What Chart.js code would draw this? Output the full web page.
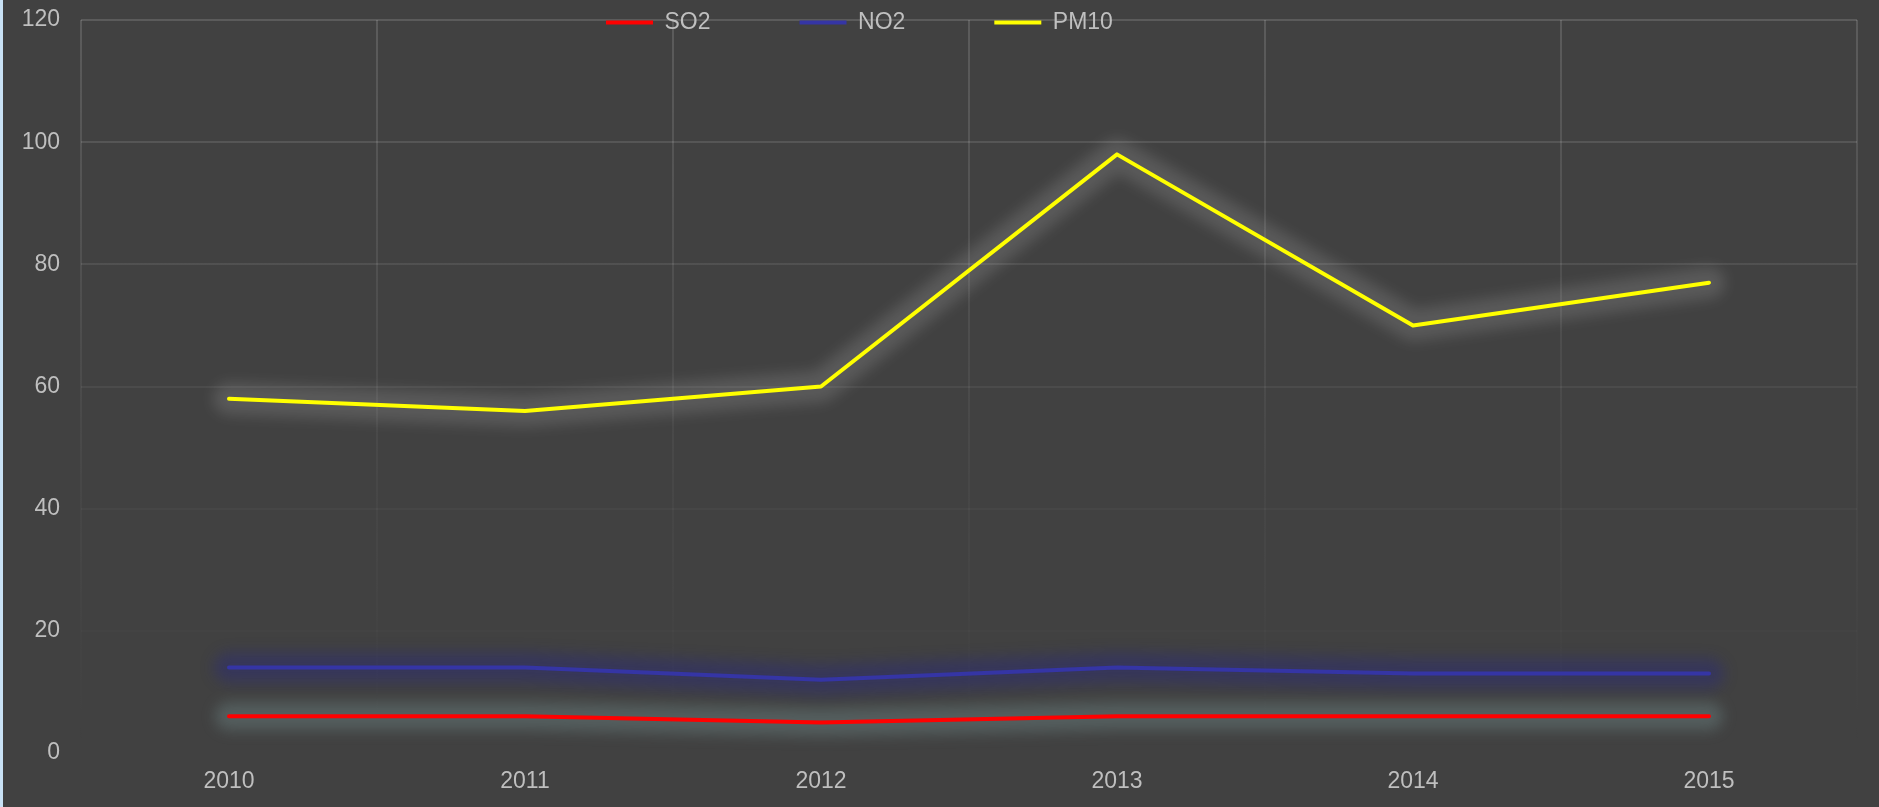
<!DOCTYPE html>
<html>
<head>
<meta charset="utf-8">
<script src="https://cdn.jsdelivr.net/npm/chart.js@4"></script>
<style>
  html, body { margin: 0; padding: 0; background: #414141; overflow: hidden; }
  #wrap { position: relative; width: 1879px; height: 807px; }
  #strip { position: absolute; left: 0; top: 0; width: 3px; height: 807px; background: #c8e1f5; }
</style>
</head>
<body>
<div id="wrap">
  <canvas id="myChart" width="1879" height="807"></canvas>
  <div id="strip"></div>
</div>
<script>
let years = ["2010", "2011", "2012", "2013", "2014", "2015"];
let so2 = [6, 6, 5, 6, 6, 6];
let no2 = [14, 14, 12, 14, 13, 13];
let pm10 = [58, 56, 60, 98, 70, 77];
let yTicks = [0, 20, 40, 60, 80, 100, 120];

let txtColor = "#bfbfbf";
let fontFam = "'Liberation Sans', Arial, sans-serif";

// soft glow behind each line, like the office "glow" effect
let glowColors = ["rgba(140,178,178,0.26)", "rgba(30,30,150,0.3)", "rgba(255,255,255,0.13)"];
let glowWidth = [28, 30, 32];

const glowPlugin = {
  id: "glow",
  beforeDatasetDraw(chart, args) {
    let pts = args.meta.data;
    if (!pts.length) return;
    let ctx = chart.ctx;
    ctx.save();
    ctx.filter = "blur(7px)";
    ctx.strokeStyle = glowColors[args.index];
    ctx.lineWidth = glowWidth[args.index];
    ctx.lineJoin = "round";
    ctx.lineCap = "round";
    ctx.beginPath();
    pts.forEach((p, i) => i ? ctx.lineTo(p.x, p.y) : ctx.moveTo(p.x, p.y));
    ctx.stroke();
    ctx.restore();
  }
};

// legend sits over the top edge of the plot, left of centre
const legendShift = {
  id: "legendShift",
  afterLayout(chart) {
    let lg = chart.legend;
    if (!lg) return;
    let pad = lg.options.labels.padding;
    let w = lg.right - lg.left;
    lg.left = 606 - pad; lg.right = lg.left + w;
    lg.top = 11 - pad; lg.bottom = lg.top + pad * 2 + 30;
  }
};

function gridColor(c) {
  let area = c.chart.chartArea;
  if (!area) return "rgba(255,255,255,0.1)";
  let g = c.chart.ctx.createLinearGradient(0, area.top, 0, area.bottom);
  g.addColorStop(0, "rgba(255,255,255,0.14)");
  g.addColorStop(0.6, "rgba(255,255,255,0.04)");
  g.addColorStop(1, "rgba(255,255,255,0)");
  return g;
}

function mkSet(label, data, color) {
  return {
    label: label,
    data: data,
    borderColor: color,
    backgroundColor: color,
    borderWidth: 4,
    borderCapStyle: "round",
    borderJoinStyle: "round",
    pointRadius: 0,
    pointHoverRadius: 0,
    pointStyle: "line",
    tension: 0,
    fill: false
  };
}

new Chart("myChart", {
  type: "line",
  data: {
    labels: years,
    datasets: [
      mkSet("SO2", so2, "#ff0000"),
      mkSet("NO2", no2, "#3535a5"),
      mkSet("PM10", pm10, "#ffff00")
    ]
  },
  plugins: [glowPlugin, legendShift],
  options: {
    responsive: false,
    devicePixelRatio: 1,
    animation: false,
    layout: { padding: { left: 22, right: 22, top: 19, bottom: 10 } },
    plugins: {
      tooltip: { enabled: false },
      legend: {
        position: "top",
        align: "start",
        maxHeight: 1,
        labels: {
          usePointStyle: true,
          pointStyleWidth: 47,
          padding: 89,
          color: txtColor,
          font: { family: fontFam, size: 23 }
        }
      }
    },
    scales: {
      x: {
        offset: true,
        afterFit(s) { s.height = 44; },
        grid: { offset: true, drawTicks: false, color: gridColor, lineWidth: 2 },
        border: { display: false },
        ticks: { color: txtColor, padding: 15, font: { family: fontFam, size: 23 } }
      },
      y: {
        min: 0,
        max: 120,
        afterFit(s) { s.width = 59; s.paddingTop = 0; s.paddingBottom = 0; },
        afterBuildTicks(s) { s.ticks = yTicks.map(v => ({ value: v })); },
        grid: { drawTicks: false, color: gridColor, lineWidth: 2 },
        border: { display: false },
        ticks: { color: txtColor, padding: 21, font: { family: fontFam, size: 23 } }
      }
    }
  }
});
</script>
</body>
</html>
